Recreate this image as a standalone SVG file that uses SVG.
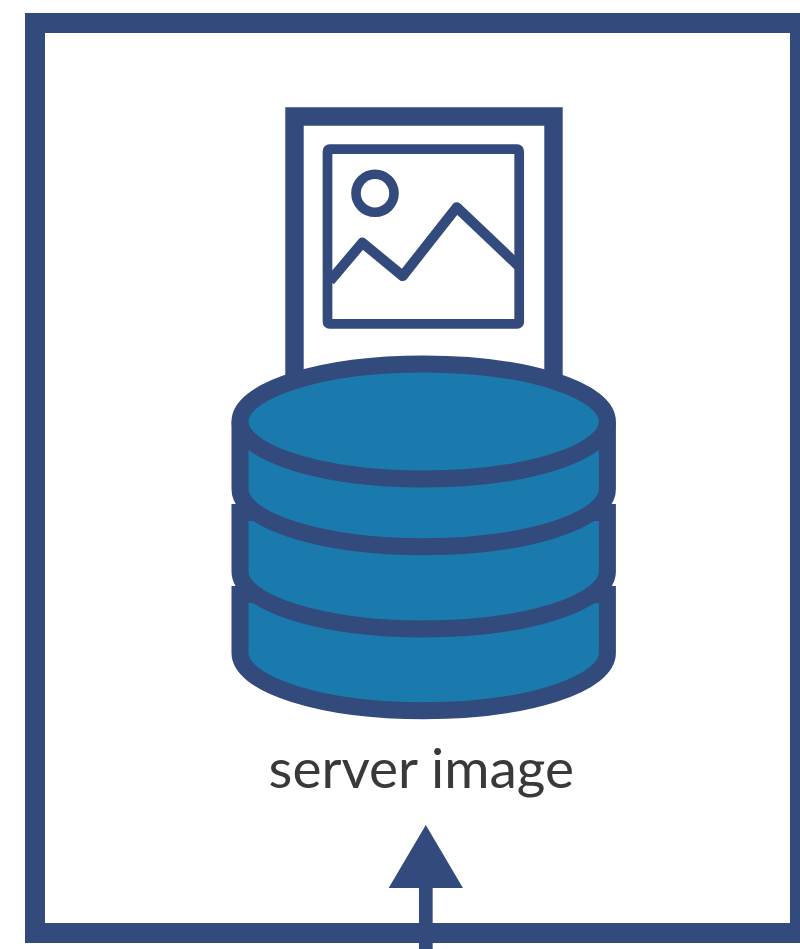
<svg xmlns="http://www.w3.org/2000/svg" width="800" height="949" viewBox="0 0 800 949">
  <style>
    .line { fill: none; stroke: #324a7c; }
    .disk { fill: #1a7aad; stroke: #324a7c; stroke-width: 17; stroke-linejoin: miter; }
    .label { font-family: "Lato", "Liberation Sans", sans-serif; font-size: 55px; fill: #3b3838; }
  </style>
  <defs>
    <marker id="head" markerUnits="userSpaceOnUse" markerWidth="65" markerHeight="76" refX="1" refY="38" orient="auto">
      <path d="M0 0.85 L63 38 L0 75.15 Z" fill="#324a7c"/>
    </marker>
  </defs>
  <rect width="800" height="949" fill="#ffffff"/>
  <g id="frame">
    <rect class="line" x="35" y="23" width="765" height="910" stroke-width="20"/>
  </g>
  <g id="server-image">
    <g id="document">
      <path class="line" d="M294.5 385 V116.5 H553.5 V385" stroke-width="18.4"/>
      <rect class="line" x="327.5" y="149.2" width="191.7" height="174.7" rx="2" stroke-width="9.7" stroke-linejoin="round"/>
      <circle class="line" cx="375" cy="193.3" r="19" stroke-width="9.6"/>
      <path class="line" d="M330 281 L362.3 242.7 L402.7 276 L456.7 207.3 L518 265.5" stroke-width="10.2" stroke-linejoin="round"/>
    </g>
    <g id="database">
      <path class="disk" d="M240 594.4 V653 A183.7 57.7 0 0 0 607.4 653 V594.4 Z"/>
      <path class="disk" d="M240 512.6 V571.5 A183.7 57.5 0 0 0 607.4 571.5 V512.6 Z"/>
      <path class="disk" d="M240 421.5 V489.2 A183.7 57.5 0 0 0 607.4 489.2 V421.5"/>
      <ellipse class="disk" cx="423.7" cy="421.5" rx="183.7" ry="57.5"/>
    </g>
    <text class="label" x="421.3" y="787.5" text-anchor="middle">server image</text>
  </g>
  <g id="connectors">
    <line x1="425.8" y1="949" x2="425.8" y2="887" stroke="#324a7c" stroke-width="13.7" marker-end="url(#head)"/>
  </g>
</svg>
